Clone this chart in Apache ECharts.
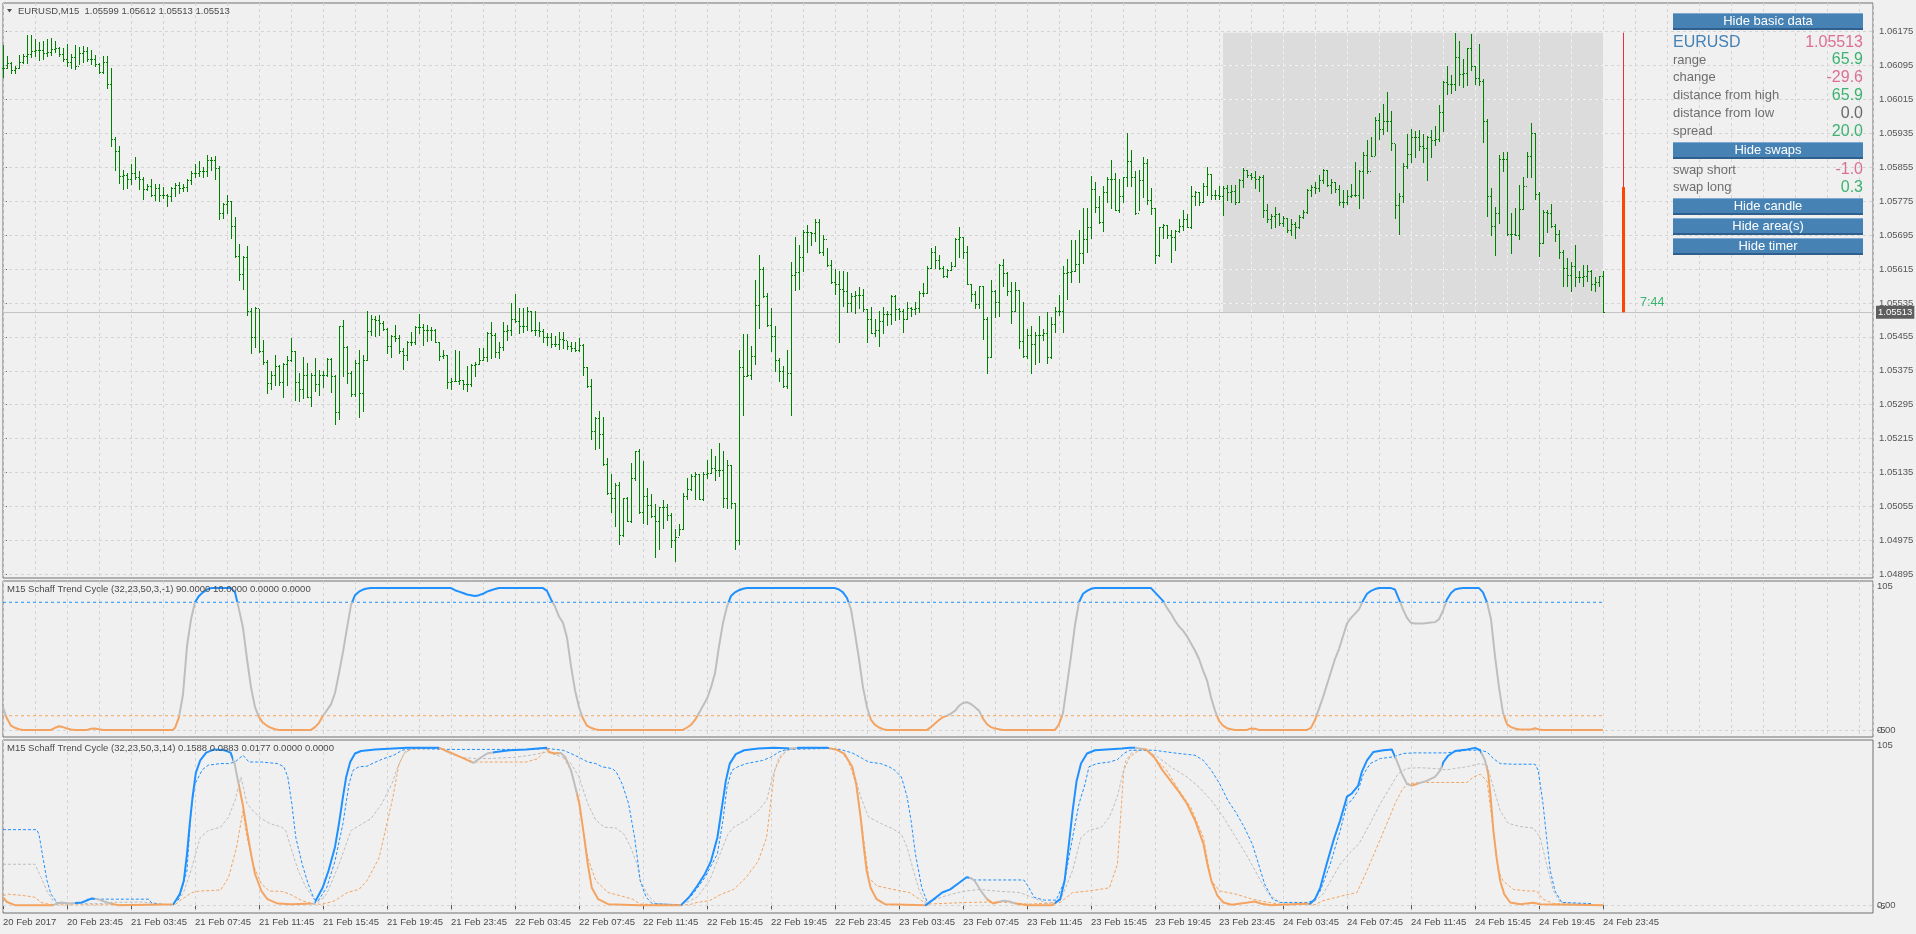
<!DOCTYPE html>
<html>
<head>
<meta charset="utf-8">
<title>EURUSD M15 - Schaff Trend Cycle</title>
<script src="https://cdn.jsdelivr.net/npm/echarts@6.0.0/dist/echarts.min.js"></script>
<style>
  html, body { margin: 0; padding: 0; background: #f0f0f0; }
  #chart { width: 1916px; height: 934px; }
</style>
</head>
<body>
<div id="chart"></div>
<script>
const FONT = '"Liberation Sans", Arial, sans-serif'
const BAR = '#008000'
const UP = '#1E90FF', MID = '#BEBEBE', DN = '#F4A460'
const trendColor = { up: UP, mid: MID, dn: DN }

// 15 minute bars from 20 Feb 2017 19:45, prices kept as points (0.00001) above BASE
const BASE = 1.048
const barHigh = [
  1342,1318,1303,1293,1320,1322,1367,1367,1356,1350, 1353,1356,1360,1352,1339,1335,1345,1322,1343,1339,
  1341,1339,1331,1320,1301,1318,1318,1289,1126,1104, 1049,1041,1063,1079,1045,1032,1016,1026,1016,1016,
  1009,992,1009,1017,1020,1016,1026,1045,1063,1070, 1055,1083,1080,1081,1058,971,990,975,937,874,
  845,870,723,725,720,648,600,575,612,589, 594,611,652,622,570,608,594,570,606,577,
  575,606,604,566,681,694,633,575,600,625, 612,715,706,703,706,692,675,659,684,659,
  629,646,667,681,708,686,684,678,673,642, 625,612,559,625,622,554,587,591,596,629,
  629,667,690,663,643,690,684,734,757,723, 723,726,717,717,690,673,664,664,656,667,
  667,646,643,643,652,639,585,555,465,480, 467,369,331,310,312,276,278,358,387,390,
  362,299,285,261,255,270,261,239,201,213, 287,323,331,337,331,337,365,390,373,404,
  386,365,354,264,625,661,661,633,790,849, 820,759,723,681,604,587,625,832,890,871,
  906,919,902,933,932,895,864,837,814,810, 810,807,759,762,772,768,720,726,698,717,
  726,715,754,754,723,720,738,726,738,764, 782,822,864,869,848,822,814,832,888,915,
  890,869,780,762,776,774,701,789,765,827, 839,807,785,785,765,737,673,681,667,703,
  673,713,701,726,754,821,839,883,883,908, 958,958,1034,1020,986,1011,1032,1073,1042,1028,
  1032,1136,1095,1045,1048,1079,1074,1007,958,915, 922,919,906,906,932,955,944,1011,999,997,
  1017,1055,1039,1000,1011,1011,1014,1014,1014,1028, 1053,1048,1042,1045,1034,1037,967,944,961,948,
  940,936,932,925,942,953,1003,1014,1020,1037, 1051,1048,1026,1020,1014,1000,1000,1016,1066,1049,
  1090,1118,1126,1174,1182,1205,1232,1188,1110,995, 1064,1132,1146,1140,1142,1133,1129,1143,1152,1202,
  1258,1294,1272,1372,1352,1311,1336,1370,1294,1345, 1263,1168,1007,961,1083,1090,1090,948,958,1014,
  1032,1091,1160,1135,997,953,953,967,922,908, 860,841,831,871,810,824,824,812,797,799,
  810
]
const barLow = [
  1268,1289,1278,1276,1289,1301,1301,1314,1318,1308, 1310,1318,1320,1326,1318,1305,1293,1289,1286,1297,
  1303,1305,1297,1294,1278,1276,1242,1106,1049,1017, 1003,1006,1016,1026,1003,979,1000,986,978,975,
  982,964,975,986,995,999,999,1016,1032,1034, 1032,1034,1049,1028,933,936,948,888,843,789,
  768,706,617,631,619,591,523,533,541,541, 513,541,597,507,503,510,513,491,528,518,
  537,562,524,450,461,562,547,516,516,467, 480,600,659,656,659,671,617,608,646,617,
  579,600,636,638,663,636,646,648,642,600, 604,535,533,552,543,533,528,538,562,591,
  600,597,606,608,606,625,648,659,690,664, 667,671,669,659,656,642,636,631,633,627,
  629,627,622,621,621,566,537,415,390,394, 352,285,243,209,167,186,222,218,318,239,
  216,213,230,135,155,205,224,160,127,188, 201,272,293,272,272,270,323,335,318,327,
  255,251,251,155,167,471,562,555,591,675, 748,681,621,575,551,537,534,471,766,768,
  810,856,871,881,852,848,822,782,755,644, 727,713,717,712,722,717,643,663,656,633,
  664,684,686,695,696,667,698,705,709,713, 751,759,818,818,814,796,796,812,821,843,
  841,779,740,723,723,650,570,608,701,703, 776,754,688,715,629,608,606,569,591,596,
  648,594,604,667,706,667,745,785,810,785, 829,854,888,950,923,905,974,958,953,950,
  974,1011,1011,944,953,984,967,944,829,846, 888,888,832,860,902,906,913,911,965,965,
  974,990,980,980,980,942,978,974,967,974, 1009,1032,1028,1006,999,938,925,911,913,919,
  916,902,894,888,911,936,948,986,995,999, 1017,1011,995,997,965,961,967,984,986,958,
  982,1041,1081,1083,1121,1132,1140,1095,936,898, 974,1053,1066,1079,1095,1068,1024,1079,1108,1116,
  1140,1227,1230,1238,1249,1244,1249,1284,1252,1249, 1115,940,896,848,923,1045,896,852,894,885,
  957,1032,1032,980,846,877,902,913,880,841, 774,776,762,774,785,776,787,765,764,774,
  713
]
const barClose = [
  1289,1301,1284,1289,1303,1318,1321,1328,1331,1331, 1325,1326,1333,1335,1322,1311,1303,1314,1293,1325,
  1328,1310,1310,1297,1280,1303,1251,1121,1093,1034, 1037,1028,1041,1032,1028,1003,1011,990,1007,989,
  990,986,1007,1014,1007,1009,1024,1041,1042,1045, 1045,1072,1073,1053,948,969,975,916,846,804,
  843,717,654,722,621,596,547,565,587,549, 591,600,621,549,533,564,513,564,545,566,
  564,602,562,478,681,631,570,520,594,522, 601,669,696,694,688,673,633,656,653,621,
  612,642,642,678,678,671,671,671,642,611, 612,549,552,552,554,545,543,589,591,600,
  608,663,659,619,631,669,671,698,692,681, 680,715,671,671,669,654,654,639,639,650,
  648,633,629,625,636,585,538,434,463,426, 356,287,276,306,188,276,222,323,386,243,
  281,258,233,222,253,255,236,176,184,201, 281,297,328,331,272,331,334,345,342,342,
  276,352,264,176,585,562,566,611,730,814, 751,684,656,600,575,538,570,801,807,843,
  902,902,900,925,854,885,824,785,780,768, 764,734,751,753,753,720,698,664,671,692,
  709,709,751,720,717,698,723,720,723,759, 759,818,856,837,818,799,812,822,885,890,
  856,780,757,732,774,698,608,764,738,824, 806,762,715,765,646,611,659,639,659,659,
  664,608,686,717,717,806,807,810,827,852, 885,915,1003,961,925,997,1028,1028,955,986,
  1032,1070,1032,948,1024,1064,978,958,849,913, 919,894,891,905,916,933,915,986,997,974,
  1011,1039,990,990,986,1007,997,999,972,1024, 1048,1037,1032,1028,1031,953,932,940,944,923,
  936,906,922,915,938,950,1000,1009,1007,1024, 1049,1014,1020,1003,972,974,986,990,990,1045,
  1083,1045,1081,1167,1146,1163,1163,1112,965,986, 1058,1087,1125,1125,1104,1100,1125,1118,1121,1184,
  1255,1251,1252,1314,1274,1278,1335,1293,1266,1258, 1163,988,916,948,1074,1074,898,898,896,957,
  1011,1081,1135,992,877,950,948,916,898,854, 818,801,821,796,796,799,810,780,785,799,
  713
]

const priceTicks = [1.04895, 1.04975, 1.05055, 1.05135, 1.05215, 1.05295, 1.05375, 1.05455, 1.05535,
  1.05615, 1.05695, 1.05775, 1.05855, 1.05935, 1.06015, 1.06095, 1.06175]

const timeLabels = ['20 Feb 2017', '20 Feb 23:45', '21 Feb 03:45', '21 Feb 07:45', '21 Feb 11:45', '21 Feb 15:45',
  '21 Feb 19:45', '21 Feb 23:45', '22 Feb 03:45', '22 Feb 07:45', '22 Feb 11:45', '22 Feb 15:45', '22 Feb 19:45',
  '22 Feb 23:45', '23 Feb 03:45', '23 Feb 07:45', '23 Feb 11:45', '23 Feb 15:45', '23 Feb 19:45', '23 Feb 23:45',
  '24 Feb 03:45', '24 Feb 07:45', '24 Feb 11:45', '24 Feb 15:45', '24 Feb 19:45', '24 Feb 23:45']

// Schaff Trend Cycle (32,23,50,3,-1): [bar, value]
const stc1 = [[0,16],[1,8],[2,3],[3,1.5],[4,0.5],[5,0],[12,0],[13,1.5],[14,2.6],[15,2],[16,1],[17,0.3],[18,0],[21,0],
  [22,0.8],[23,1],[24,0.4],[25,0],[42.5,0],[43,1.5],[44,9],[45,25],[46,59],[47,78],[48,90],[49,94.5],[50,97],[51,99],
  [52,100],[57,100],[58,97],[59,85],[60,72],[61,50],[62,30],[63,16],[64,9],[65,5],[66,2.9],[67,1.5],[68,0.5],[69,0],
  [77,0],[78,2],[79,5],[80,10],[81,14],[82,18],[83,26],[84,40],[85,55],[86,72],[87,88],[88,95],[89,97.5],[90,99],
  [91,99.7],[92,100],[112,100],[113,98.5],[114,97.5],[115,96.5],[116,95.5],[118,94.5],[119,95],[120,96],[121,97.5],
  [122,98.5],[123,99.3],[124,100],[135,100],[136,98],[137,92],[138,87],[139,80],[140,75.5],[141,65],[142,45],[143,28],
  [144,16],[145,8],[146,3],[147,1.5],[148,0.5],[149,0],[170,0],[171,1.7],[172,3.5],[173,7],[174,12],[175,17],[176,22],
  [177,30],[178,40],[179,59],[180,75.5],[181,87],[182,94.5],[183,97],[184,98.5],[185,99.5],[186,100],[208,100],[209,99],
  [210,97],[211,93],[212,85],[213,68],[214,50],[215,30],[216,16],[217,7],[218,3.5],[219,1.7],[220,0.5],[221,0],[231,0],
  [232,2],[233,4.5],[234,7],[235,9],[236,10],[237,11.5],[238,13.5],[239,17],[240,19],[241,19.5],[242,18.3],[243,16],
  [244,13.6],[245,8],[246,4],[247,2],[248,1],[249,0.5],[250,0],[263,0],[264,4],[265,12],[266,32],[267,52],[268,74],
  [269,90],[270,96],[271,98],[272,99.5],[273,100],[287,100],[288,97],[289,94],[290,91],[291,86],[292,82],[293,77],
  [294,73],[295,70],[296,66],[297,61],[298,56],[299,50],[300,42],[301,35],[302,23],[303,13.6],[304,6.4],[305,3],
  [306,1.2],[307,0.5],[308,0],[311,0],[312,1],[313,0.8],[314,0],[326,0],[327,1.5],[328,7],[329,15],[330,23],[331,32],
  [332,41],[333,50],[334,57],[335,66],[336,75],[337,79],[338,82],[339,85],[340,91],[341,96],[342,98],[343,99.3],
  [344,100],[347,100],[348,99],[349,92],[350,85],[351,79],[352,75.5],[353,75],[355,75],[357,75.8],[358,76],[359,78],
  [360,84],[361,92],[362,96.5],[363,99],[364,99.7],[365,100],[369,100],[370,97],[371,90],[372,78],[373,52],[374,30],
  [375,12],[376,4],[377,2],[378,1],[379,0.3],[382,0.3],[383,1.2],[384,0.3],[385,0],[400,0]]
const stc1Levels = [90, 10]

// Schaff Trend Cycle (32,23,50,3,14): main line and its three companion lines
const stc2 = [[0,5],[1,2],[3,0],[12.5,0],[13.5,1],[14.6,1.7],[16.6,1],[19.7,1.7],[21.2,3.2],[22.2,4.3],[23.7,3.8],
  [25.3,2.3],[26.8,1],[28.8,0],[42.6,0.6],[44.2,7],[45.2,15.5],[46,32.6],[46.7,52],[47.4,69],[48.2,84],[49.3,92],
  [50.8,97],[52.8,99],[55.4,98.5],[56.9,97],[57.9,90],[58.9,77],[59.9,64.5],[61,47.4],[62,32.6],[63,19.8],[64.6,9],
  [66.1,3.8],[68.7,1],[72,0.5],[77.8,1],[79.9,11],[81.4,22],[83,37],[84,52],[85,69],[85.8,81.5],[86.8,91],[88,96.4],
  [89.5,98],[93,99],[101,100],[109,100],[111.5,97.4],[114.6,94],[117.6,90.4],[119,93],[121,96.4],[123.2,97.4],
  [126.7,98.5],[130.8,99],[135.9,100],[136.5,97.4],[138,96.4],[139.5,96.8],[140.6,94],[142,85.7],[143.1,75],
  [144.1,64.5],[145.2,45],[146.2,26],[147.2,11],[148.8,3.8],[151.3,0.6],[159,0],[169.5,0],[171.5,5],[173.5,12],
  [175.5,20],[177,28],[178.6,43],[179.6,60],[180.7,79],[181.7,90],[183.2,96],[185.3,98.5],[188.8,99.6],[192.9,100],
  [197,99.6],[199,100],[206.2,100],[208.2,99],[210.3,96.4],[212.3,88],[213.3,77],[214.4,56],[215.2,37],[215.9,22],
  [216.9,11],[218.4,3.8],[220.5,0.6],[230.7,0],[232.7,3.8],[234.8,8],[236.8,10],[238.8,13.8],[240.9,17.7],[241.9,17.3],
  [242.9,15.5],[244.5,9],[246,3.8],[247.5,1],[250.1,2.8],[251.6,2.3],[253.1,1],[256.2,0],[262.3,0],[264.3,3.8],
  [265.4,15.5],[266.4,37],[267.4,60],[268.4,79],[269.5,90],[271,96.4],[273,98.5],[279.7,99.6],[281.7,100],[283.3,100],
  [285.8,99],[287.8,94],[289.9,85.7],[291.9,79],[294,72],[296,64.5],[298,54],[300.1,39],[301.1,26],[302.1,15.5],
  [303.6,6],[305.1,1.7],[307.2,0.2],[311.3,1.7],[312.9,2.3],[314.4,1],[317,0],[326.8,1],[328,3.8],[329.3,11],
  [330.9,26],[332.6,41],[334.3,54],[336,69],[337.2,71],[338.8,76],[339.7,84.7],[341,92],[342.6,97.4],[345.1,98.5],
  [347.2,99],[348.4,92],[349.7,83.6],[351,77],[352.2,76],[353.4,77],[355.9,79],[358,81.5],[359.3,85.7],[360.1,91],
  [361.3,95],[363,98],[366,99],[368,100],[369.3,98.5],[370.5,92],[371.3,83.6],[371.9,69],[372.6,47.4],[373.4,30],
  [374.3,15.5],[375.3,7],[376.8,1.7],[379.3,0.6],[382.6,1.5],[384.3,0.6],[400,0]]
const stc2Trend = [[0,12.5,'dn'],[12.5,18,'mid'],[18,23,'up'],[23,27,'mid'],[27,42.5,'dn'],[42.5,57.5,'up'],
  [57.5,59,'mid'],[59,77,'dn'],[77,78,'mid'],[78,109,'up'],[109,117,'dn'],[117,122.5,'mid'],[122.5,136,'up'],
  [136,139,'dn'],[139,143.5,'mid'],[143.5,169.5,'dn'],[169.5,196.5,'up'],[196.5,198.5,'mid'],[198.5,206.5,'up'],
  [206.5,230.5,'dn'],[230.5,241.5,'up'],[241.5,246,'mid'],[246,249,'dn'],[249,253,'mid'],[253,263,'dn'],
  [263,283,'up'],[283,285,'mid'],[285,326.5,'dn'],[326.5,348,'up'],[348,352,'mid'],[352,353.5,'dn'],
  [353.5,359.8,'mid'],[359.8,369.5,'up'],[369.5,371,'mid'],[371,401,'dn']]
const stc2Hi = [[0,48],[8.4,48],[9,45],[10,30],[11,15.5],[12,7],[13.5,1.7],[17,1],[19.7,1.7],[21.2,3.8],[36.5,3.8],
  [37,1.7],[39,0.6],[42,0.2],[44,3.8],[46,22],[47,60],[48,77],[49.8,86],[51.3,89],[54.4,90],[56.4,90],[58,91],
  [60,95.3],[61.5,91],[64.6,91],[68.7,90],[70.2,88],[71.2,81.5],[72.2,64.5],[73.2,43],[74.8,26],[76.3,13.4],
  [77.8,3.8],[78.8,2.8],[80.9,11],[83,28],[85,52],[86.5,77],[87.5,85.7],[89,88],[91,88.3],[92.6,90.4],[95.2,93.2],
  [97.7,95.3],[99.8,98.5],[102.3,99.6],[111.5,99],[131.9,99],[136,99.6],[140,98.5],[142,96.4],[144,94],[146.2,91],
  [148.2,90],[149.7,88],[152.3,86.8],[153.3,84.7],[154.8,77],[156.4,64.5],[157.9,43],[159,22],[159.3,15.5],[160.8,5],
  [162.3,1],[169.5,0.2],[172.5,7],[175.5,17.7],[178.6,32.6],[180,54],[181,75],[182.2,85.7],[183.7,88],[185.8,90],
  [189.9,92],[191.9,94],[194,97.4],[196,99],[206.2,99.6],[209.3,99],[212.3,96.8],[214.9,93.2],[216.4,91],[219.4,90],
  [221.5,88],[223,85.7],[224.6,81.5],[226,69],[227,54],[228.1,32.6],[229.7,11],[231.2,1],[232.7,3.8],[234.8,8],
  [236.8,10],[239.9,15.5],[240.9,17.7],[242.9,16],[255.2,16],[256.2,12.3],[257.8,5],[260.3,3.2],[263.3,3.2],
  [265.4,15.5],[267.4,43],[269,64.5],[270.5,77],[271.5,88],[273.5,90],[276.6,91],[278.6,92.5],[280.2,96.4],
  [281.7,98.5],[287.8,98.5],[290.9,97.4],[294,96.4],[298,95.3],[300.1,92],[302.1,85.7],[304.2,77],[306.2,66.6],
  [308.2,59],[310.3,49.6],[312.3,39],[313.9,26],[315.4,13.4],[317.4,3.8],[319.3,1.7],[326,1.7],[327.6,2.8],[329.3,9],
  [331.8,26],[334.3,47.4],[336,64.5],[337.2,66.6],[338.8,73],[340,82.6],[341.8,90],[344.3,93.2],[347.6,94.3],
  [350,96.4],[352.6,96.8],[360.9,96.8],[362.6,97.4],[366,98.5],[369.3,98.5],[371,97.4],[372.6,93.2],[374.3,90],
  [377.6,89.6],[383,89.6],[383.8,85.7],[385,64.5],[385.9,43],[386.8,22],[388,9],[389.7,1.7],[397,1]]
const stc2Mid = [[0,26],[8,26],[9.5,17.7],[11,9],[12.5,2.8],[14,1],[25,1],[26.8,1.7],[35,2],[38,1],[42,0.2],[45,7],
  [47,22],[49.3,43],[51.3,47.4],[54.4,49.6],[56.4,56],[58,66.6],[59.5,81.5],[61,64.5],[62.5,60],[64.6,55],[66.6,52],
  [69.7,49.6],[70.7,47.4],[72.2,34.7],[73.8,22],[75.8,11],[77.8,3.8],[78.8,1.7],[80.9,7],[84,26],[87,47.4],[90,52],
  [92,55],[94.7,64.5],[97.2,77],[98.7,88],[100.3,96.4],[102.3,99.6],[109.5,99.6],[111.5,96.4],[114.6,94],[117.6,93.2],
  [121.7,93.2],[127.8,94],[131.9,95.3],[136,97.4],[140,94],[142,90],[144,81.5],[146.2,64.5],[148.2,54],[150.3,49.6],
  [153.3,49],[155.3,45],[156.9,37],[158.5,26],[159.3,15.5],[161.3,6],[163.3,1],[169.5,0.2],[173.5,5],[176.6,15.5],
  [179.6,34.7],[181.2,45],[182.7,49.6],[185.8,54],[188.8,60],[190.9,66.6],[192.4,81.5],[194,94],[196,98.5],[198,99.6],
  [207,99.6],[209.3,98.5],[212.3,88],[214.4,69],[216.4,56],[219.4,52],[222.5,48.5],[224.6,45],[226,37],[227.6,22],
  [229.1,9],[230.7,1.7],[235.8,6],[239.9,8.7],[244,10],[248,9],[254.2,8],[257.2,5],[261.3,1],[264.3,2.8],[267.4,22],
  [269.5,43],[271.5,47.4],[274.6,49.6],[276.6,56],[278.6,69],[280.7,92],[282.7,98.5],[285.8,98.5],[288.8,94],
  [291.9,88],[296,81.5],[299,75],[302.1,66.6],[305.1,56],[308.2,43],[311.3,30],[314.4,15.5],[316.4,7],[319.3,1.7],
  [327,0.6],[330,7],[334.3,26],[337.2,34.7],[339,39],[341.8,52],[344.3,64.5],[346.8,75],[348.8,83.6],[351,87],
  [354.3,87.4],[358.4,86.8],[360.9,86],[362.6,86.8],[366,88],[369.3,90],[371,89],[372.6,75],[374.3,60],[376.3,52],
  [379.3,50],[382.6,49],[384.3,43],[385.9,26],[387.6,9],[389.3,1.7],[397,0.4]]
const stc2Lo = [[0,6],[1.3,7],[5.4,6],[8,5],[9.5,1.7],[11.5,0.6],[14,0.2],[43,0.2],[44.2,2.8],[47.2,8],[49.3,9],
  [54.4,9.6],[56.4,17.7],[58.4,37],[60,60],[61,43],[62.5,26],[64.6,13.4],[66.6,9],[69.7,8.7],[71.7,7],[74.8,2.8],
  [77.8,0.6],[79.9,0.6],[83,2.8],[86,8],[89,10],[91,15.5],[94,30],[96,52],[97.5,69],[99,90],[100.5,97.4],[102,99],
  [109.5,100],[111.5,97.4],[114.6,94],[117.6,91],[121.7,91],[130.8,91],[133.8,93.2],[135.9,100],[136.5,96.8],
  [139.5,96.8],[142,85.7],[144,64.5],[146.2,30],[148.2,15.5],[151.3,8],[154.3,6],[157.4,3.8],[159.3,0.6],
  [171.5,0.2],[173.5,1.7],[176.6,2.8],[179.6,7],[182.7,10],[185.8,17.7],[188.8,28],[190.9,43],[191.9,64.5],
  [192.9,85.7],[194.5,94.3],[196,98.5],[198,99.6],[207,99.6],[209.3,98.5],[211.3,92],[213.3,77],[214.9,47.4],
  [216.4,17.7],[218.4,12.3],[222.5,10],[226.6,8],[229.7,2.8],[230.7,0.6],[240.9,1.7],[247,2],[251.1,1.7],[256.2,0.6],
  [264.3,1.7],[267.4,8],[271.5,9],[276.6,11],[278.6,26],[280.2,85.7],[281.7,94.3],[284.3,99],[285.8,99],[287.8,94],
  [290.9,85.7],[294,73],[297,62],[300.1,43],[302.1,15.5],[304.2,9],[308.2,7],[312.3,3.8],[316.4,1.7],[319.3,0.6],
  [328,0.2],[330,2.8],[333.4,5],[336,6.6],[338.5,8],[341,22],[343.5,37],[346,52],[348,64.5],[349.7,73],[351,77],
  [354,78],[366,78],[367.6,81.5],[369.3,83.2],[371,79],[372.6,47.4],[373.8,22],[375,15.5],[377.6,10],[380.9,9],
  [383.4,9],[385,3.8],[387.6,1],[397,0.2]]

// info panel texts
const symbolName = 'EURUSD'
const infoRows = [['range', '65.9', 'up'], ['change', '-29.6', 'dn'], ['distance from high', '65.9', 'up'],
  ['distance from low', '0.0', 'flat'], ['spread', '20.0', 'up']]
const swapRows = [['swap short', '-1.0', 'dn'], ['swap long', '0.3', 'up']]
const timerText = '7:44'
const timerMid = 1.05808

const toPrice = p => Math.round(BASE * 1e5 + p) / 1e5
const lastIndex = barClose.length - 1
const lastPrice = toPrice(barClose[lastIndex])
const dayStart = 305
const dayHigh = toPrice(Math.max(...barHigh.slice(dayStart)))
const dayLow = toPrice(Math.min(...barLow.slice(dayStart)))
const timerBar = lastIndex + 5
const X_MAX = 467.5
const GRID_STEP = 8

const barData = barClose.map((c, i) => [
  i,
  toPrice(i === 0 ? c : barClose[i - 1]),
  toPrice(c),
  toPrice(barLow[i]),
  toPrice(barHigh[i])
])

const renderBar = (params, api) => {
  const i = api.value(0)
  const o = api.coord([i, api.value(1)])
  const c = api.coord([i, api.value(2)])
  const lo = api.coord([i, api.value(3)])
  const hi = api.coord([i, api.value(4)])
  const px = Math.round(o[0])
  const x = px + 0.5
  const oy = Math.round(o[1]) + 0.5
  const cy = Math.round(c[1]) + 0.5
  const style = { stroke: BAR, lineWidth: 1 }
  return {
    type: 'group',
    children: [
      { type: 'line', shape: { x1: x, y1: Math.round(hi[1]), x2: x, y2: Math.max(Math.round(lo[1]) + 1, Math.round(hi[1]) + 1) }, style },
      { type: 'line', shape: { x1: px - 1, y1: oy, x2: px, y2: oy }, style },
      { type: 'line', shape: { x1: px + 1, y1: cy, x2: px + 2, y2: cy }, style }
    ]
  }
}

// full-width horizontal line through the axis scale
const hLine = (v, extra) => [{ coord: [0, v], ...(extra || {}) }, { coord: [X_MAX, v] }]

// grid lines seen through the shaded day area
const dayGrid = [
  ...priceTicks.filter(v => v > dayLow && v < dayHigh).map(v => [{ coord: [dayStart, v] }, { coord: [lastIndex, v] }]),
  ...Array.from({ length: Math.floor(lastIndex / GRID_STEP) + 1 }, (_, k) => k * GRID_STEP)
    .filter(x => x > dayStart && x <= lastIndex)
    .map(x => [{ coord: [x, dayLow] }, { coord: [x, dayHigh] }])
]

const gridLine = { color: '#D4D4D4', type: [3, 3], width: 1 }
const labelBars = timeLabels.map((_, k) => k * 16)
const xBase = {
  type: 'value', min: 0, max: X_MAX, interval: GRID_STEP,
  axisLine: { show: false }, axisTick: { show: false }, axisLabel: { show: false },
  splitLine: { show: true, lineStyle: gridLine }
}
const paneY = (gridIndex) => ({
  type: 'value', gridIndex, position: 'right', min: -5, max: 105,
  axisLine: { show: false }, splitLine: { show: false },
  axisTick: { show: true, customValues: [0], length: 3, lineStyle: { color: '#666' } },
  axisLabel: {
    customValues: [105, 0], margin: 4, fontSize: 9.5, color: '#555', fontFamily: FONT,
    formatter: v => v === 105 ? '{t|105}' : '0.00',
    rich: { t: { padding: [10, 0, 0, 0], fontSize: 9.5, color: '#555', fontFamily: FONT } }
  }
})
const gridBox = { left: 3, right: 43, show: true, borderColor: '#707070', borderWidth: 1, containLabel: false, outerBoundsMode: 'none' }
const plainMark = { silent: true, symbol: 'none', animation: false, label: { show: false } }

const series = [
  {
    name: 'hgrid', type: 'line', xAxisIndex: 0, yAxisIndex: 0, data: [], silent: true, z: 1,
    markLine: { ...plainMark, lineStyle: gridLine, data: priceTicks.map(v => hLine(v)) }
  },
  {
    name: 'day', type: 'line', xAxisIndex: 0, yAxisIndex: 0, data: [], silent: true, z: 2,
    markArea: { silent: true, animation: false, itemStyle: { color: '#DCDCDC' },
      data: [[{ coord: [dayStart, dayHigh] }, { coord: [lastIndex, dayLow] }]] }
  },
  {
    name: 'dayGrid', type: 'line', xAxisIndex: 0, yAxisIndex: 0, data: [], silent: true, z: 3,
    markLine: { ...plainMark, lineStyle: { color: '#F2F2F2', type: [3, 3], width: 1 }, data: dayGrid }
  },
  {
    name: 'price', type: 'line', xAxisIndex: 0, yAxisIndex: 0, data: [], silent: true, z: 4,
    markLine: { silent: true, symbol: 'none', animation: false,
      lineStyle: { color: '#C4C4C4', type: 'solid', width: 1 },
      label: { show: true, position: 'end', distance: 3, formatter: lastPrice.toFixed(5), color: '#fff',
        backgroundColor: '#5E5E5E', padding: [2, 2, 1, 2], fontSize: 9.5, fontFamily: FONT },
      data: [hLine(lastPrice)] }
  },
  {
    name: 'EURUSD', type: 'custom', xAxisIndex: 0, yAxisIndex: 0, z: 5, silent: true,
    renderItem: renderBar, encode: { x: 0, y: [1, 2, 3, 4] }, data: barData
  },
  {
    name: 'timer', type: 'line', xAxisIndex: 0, yAxisIndex: 0, data: [], silent: true, z: 6,
    markLine: { ...plainMark,
      data: [
        [{ coord: [timerBar, dayHigh], lineStyle: { color: '#E8303F', width: 1, type: 'solid' } }, { coord: [timerBar, lastPrice] }],
        [{ coord: [timerBar, timerMid], lineStyle: { color: '#FF4500', width: 3, type: 'solid' } }, { coord: [timerBar, lastPrice] }]
      ] }
  },
  {
    name: 'zero1', type: 'line', xAxisIndex: 1, yAxisIndex: 1, data: [], silent: true, z: 1,
    markLine: { ...plainMark, lineStyle: gridLine, data: [hLine(0)] }
  },
  {
    name: 'level90', type: 'line', xAxisIndex: 1, yAxisIndex: 1, silent: true, showSymbol: false, z: 3,
    data: [[0, stc1Levels[0]], [lastIndex, stc1Levels[0]]], lineStyle: { color: UP, width: 1, type: [3, 3] }
  },
  {
    name: 'level10', type: 'line', xAxisIndex: 1, yAxisIndex: 1, silent: true, showSymbol: false, z: 3,
    data: [[0, stc1Levels[1]], [lastIndex, stc1Levels[1]]], lineStyle: { color: DN, width: 1, type: [3, 3] }
  },
  {
    name: 'stc1', type: 'line', xAxisIndex: 1, yAxisIndex: 1, silent: true, showSymbol: false, z: 5,
    data: stc1, lineStyle: { width: 2 }
  },
  {
    name: 'zero2', type: 'line', xAxisIndex: 2, yAxisIndex: 2, data: [], silent: true, z: 1,
    markLine: { ...plainMark, lineStyle: gridLine, data: [hLine(0)] }
  },
  {
    name: 'stc2Lo', type: 'line', xAxisIndex: 2, yAxisIndex: 2, silent: true, showSymbol: false, z: 3,
    data: stc2Lo, lineStyle: { color: DN, width: 1, type: [3, 2] }
  },
  {
    name: 'stc2Mid', type: 'line', xAxisIndex: 2, yAxisIndex: 2, silent: true, showSymbol: false, z: 3,
    data: stc2Mid, lineStyle: { color: MID, width: 1, type: [3, 2] }
  },
  {
    name: 'stc2Hi', type: 'line', xAxisIndex: 2, yAxisIndex: 2, silent: true, showSymbol: false, z: 3,
    data: stc2Hi, lineStyle: { color: UP, width: 1, type: [3, 2] }
  },
  {
    name: 'stc2', type: 'line', xAxisIndex: 2, yAxisIndex: 2, silent: true, showSymbol: false, z: 5,
    data: stc2, lineStyle: { width: 2 }
  }
]
const stc1Index = series.findIndex(s => s.name === 'stc1')
const stc2Index = series.findIndex(s => s.name === 'stc2')

// text and buttons drawn on top
const txt = (x, y, text, fill, size, align) => ({
  type: 'text', x, y, silent: true, z: 100,
  style: { text, fill, font: size + 'px ' + FONT, textAlign: align || 'left', textVerticalAlign: 'middle' }
})
const valueColor = { up: '#3CB371', dn: '#DB7093', flat: '#696969' }
const panelL = 1673, panelR = 1863
const button = (label, top) => [
  { type: 'rect', silent: true, z: 100, shape: { x: panelL, y: top, width: panelR - panelL, height: 17 }, style: { fill: '#4682B4' } },
  { type: 'rect', silent: true, z: 100, shape: { x: panelL, y: top, width: panelR - panelL, height: 1 }, style: { fill: '#7EA9D2' } },
  { type: 'rect', silent: true, z: 100, shape: { x: panelL, y: top + 15, width: panelR - panelL, height: 2 }, style: { fill: '#2F5F8C' } },
  txt((panelL + panelR) / 2, top + 8.5, label, '#FFFFFF', 13, 'center')
]

const graphic = [
  { type: 'polygon', silent: true, z: 100, shape: { points: [[7, 9], [12, 9], [9.5, 12.5]] }, style: { fill: '#505050' } },
  txt(18, 11, 'EURUSD,M15  1.05599 1.05612 1.05513 1.05513', '#4A4A4A', 9.5),
  txt(7, 589, 'M15 Schaff Trend Cycle (32,23,50,3,-1) 90.0000 10.0000 0.0000 0.0000', '#4A4A4A', 9.5),
  txt(7, 748, 'M15 Schaff Trend Cycle (32,23,50,3,14) 0.1588 0.0883 0.0177 0.0000 0.0000', '#4A4A4A', 9.5),
  // pane minimum labels, printed over the 0.00 level label as the terminal does
  txt(1877, 730, '-5', '#555', 9.5),
  txt(1877, 906, '-5', '#555', 9.5),
  ...button('Hide basic data', 13),
  txt(panelL, 42.5, symbolName, '#4682B4', 16),
  txt(panelR, 42.5, lastPrice.toFixed(5), '#DB7093', 16, 'right'),
  ...infoRows.flatMap(([k, v, t], n) => [
    txt(panelL, 60 + n * 17.8, k, '#6E6E6E', 13),
    txt(panelR, 60 + n * 17.8, v, valueColor[t], 16, 'right')
  ]),
  ...button('Hide swaps', 142),
  ...swapRows.flatMap(([k, v, t], n) => [
    txt(panelL, 170 + n * 17.8, k, '#6E6E6E', 13),
    txt(panelR, 170 + n * 17.8, v, valueColor[t], 16, 'right')
  ]),
  ...button('Hide candle', 198),
  ...button('Hide area(s)', 218),
  ...button('Hide timer', 238),
  txt(1640, 303, timerText, '#3CB371', 12.5)
]

const option = {
  animation: false,
  backgroundColor: '#F0F0F0',
  textStyle: { fontFamily: FONT },
  grid: [
    { ...gridBox, top: 3, height: 575 },
    { ...gridBox, top: 581, height: 156 },
    { ...gridBox, top: 740, height: 173 }
  ],
  xAxis: [
    { ...xBase, gridIndex: 0 },
    { ...xBase, gridIndex: 1 },
    {
      ...xBase, gridIndex: 2,
      axisTick: { show: true, customValues: labelBars, length: 4, lineStyle: { color: '#555' } },
      axisLabel: { show: true, customValues: labelBars, formatter: v => timeLabels[Math.round(v / 16)] || '',
        align: 'left', verticalAlign: 'top', margin: 4, fontSize: 9.5, color: '#4A4A4A', fontFamily: FONT }
    }
  ],
  yAxis: [
    {
      type: 'value', gridIndex: 0, position: 'right', min: 1.048866, max: 1.062419,
      axisLine: { show: false }, splitLine: { show: false },
      axisTick: { show: true, customValues: priceTicks, length: 4, lineStyle: { color: '#666' } },
      axisLabel: { customValues: priceTicks, formatter: v => v.toFixed(5), margin: 6, fontSize: 9.5, color: '#555', fontFamily: FONT }
    },
    paneY(1),
    paneY(2)
  ],
  visualMap: [
    {
      type: 'piecewise', show: false, seriesIndex: stc1Index, dimension: 1,
      pieces: [{ lt: stc1Levels[1], color: DN }, { gte: stc1Levels[1], lt: stc1Levels[0], color: MID }, { gte: stc1Levels[0], color: UP }]
    },
    {
      type: 'piecewise', show: false, seriesIndex: stc2Index, dimension: 0,
      pieces: stc2Trend.map(([a, b, t]) => ({ gte: a, lt: b, color: trendColor[t] }))
    }
  ],
  graphic,
  series
}

const myChart = echarts.init(document.getElementById('chart'))
myChart.setOption(option)
</script>
</body>
</html>
